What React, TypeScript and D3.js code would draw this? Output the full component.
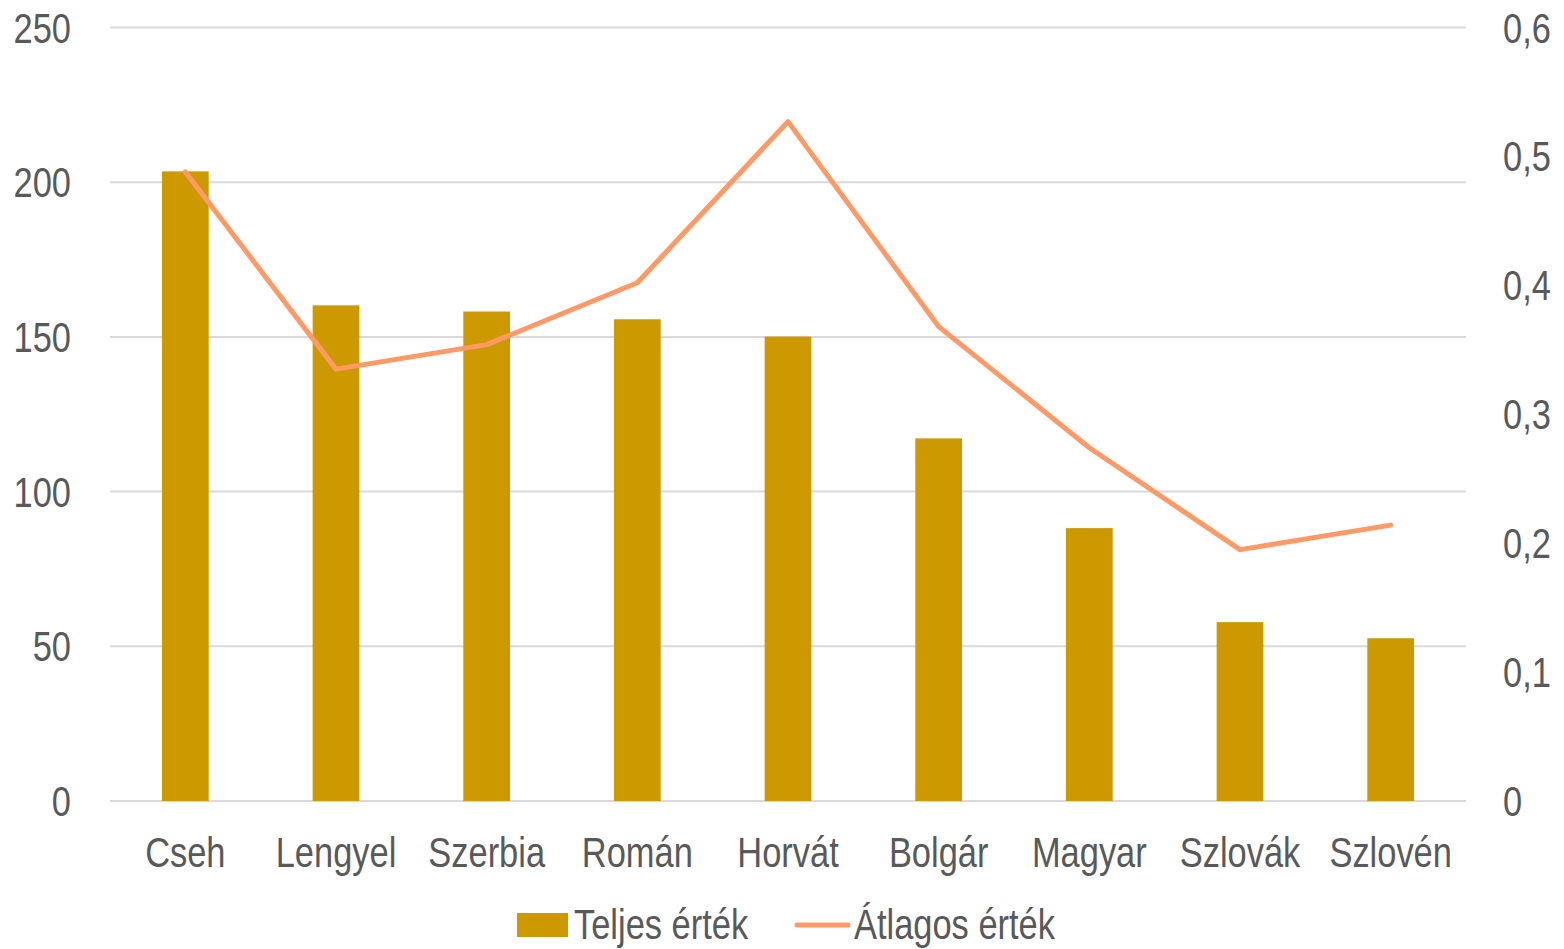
import React from "react";
import * as d3 from "d3";

const categories = ["Cseh", "Lengyel", "Szerbia", "Román", "Horvát", "Bolgár", "Magyar", "Szlovák", "Szlovén"];
const totalValues = [203.5, 160.2, 158.2, 155.7, 150.1, 117.2, 88.2, 57.8, 52.6];
const avgValues = [0.488, 0.335, 0.354, 0.402, 0.527, 0.368, 0.274, 0.195, 0.214];
const leftTicks = [0, 50, 100, 150, 200, 250];
const rightTicks = [0, 0.1, 0.2, 0.3, 0.4, 0.5, 0.6];
const seriesNames = ["Teljes érték", "Átlagos érték"];

const W = 1564;
const H = 949;
const FONT = "'Liberation Sans', Arial, sans-serif";
const TEXT = "#595959";
const BAR = "#CC9900";
const LINE = "#FF9966";
const SX = 0.82;

function T({ x, y, anchor = "start", children }: { x: number; y: number; anchor?: string; children: React.ReactNode }) {
  return (
    <text transform={`translate(${x},${y}) scale(${SX},1)`} textAnchor={anchor} fontSize={42} fill={TEXT}>
      {children}
    </text>
  );
}

export default function App() {
  const left = 110, right = 1466, top = 27.5, bottom = 801;
  const x = d3.scaleBand<string>().domain(categories).range([left, right]).paddingInner(0.69).paddingOuter(0.345);
  const xc = (c: string) => (x(c) as number) + x.bandwidth() / 2;
  const yL = d3.scaleLinear().domain([0, 250]).range([bottom, top]);
  const yR = d3.scaleLinear().domain([0, 0.6]).range([bottom, top]);
  const line = d3.line<number>().x((_, i) => xc(categories[i])).y((d) => yR(d));
  const fmt = (v: number) => (v === 0 ? "0" : d3.format(".1f")(v).replace(".", ","));

  return (
    <svg width={W} height={H} style={{ position: "absolute", left: 0, top: 0 }} fontFamily={FONT}>
      <rect width={W} height={H} fill="#fff" />
      {leftTicks.map((t) => (
        <line key={t} x1={left} x2={right} y1={yL(t)} y2={yL(t)} stroke="#D9D9D9" strokeWidth={2} />
      ))}
      {categories.map((c, i) => (
        <rect key={c} x={x(c)} y={yL(totalValues[i])} width={x.bandwidth()} height={yL(0) - yL(totalValues[i])} fill={BAR} />
      ))}
      <path d={line(avgValues) || ""} fill="none" stroke={LINE} strokeWidth={5} strokeLinejoin="round" strokeLinecap="round" />
      {leftTicks.map((t) => (
        <T key={t} x={71} y={yL(t) + 15} anchor="end">{t}</T>
      ))}
      {rightTicks.map((t) => (
        <T key={t} x={1503} y={yR(t) + 15}>{fmt(t)}</T>
      ))}
      {categories.map((c) => (
        <T key={c} x={xc(c)} y={867} anchor="middle">{c}</T>
      ))}
      <rect x={517} y={913} width={51} height={24} fill={BAR} />
      <T x={574} y={939}>{seriesNames[0]}</T>
      <line x1={797} x2={848} y1={925} y2={925} stroke={LINE} strokeWidth={5} strokeLinecap="round" />
      <T x={854} y={939}>{seriesNames[1]}</T>
    </svg>
  );
}
